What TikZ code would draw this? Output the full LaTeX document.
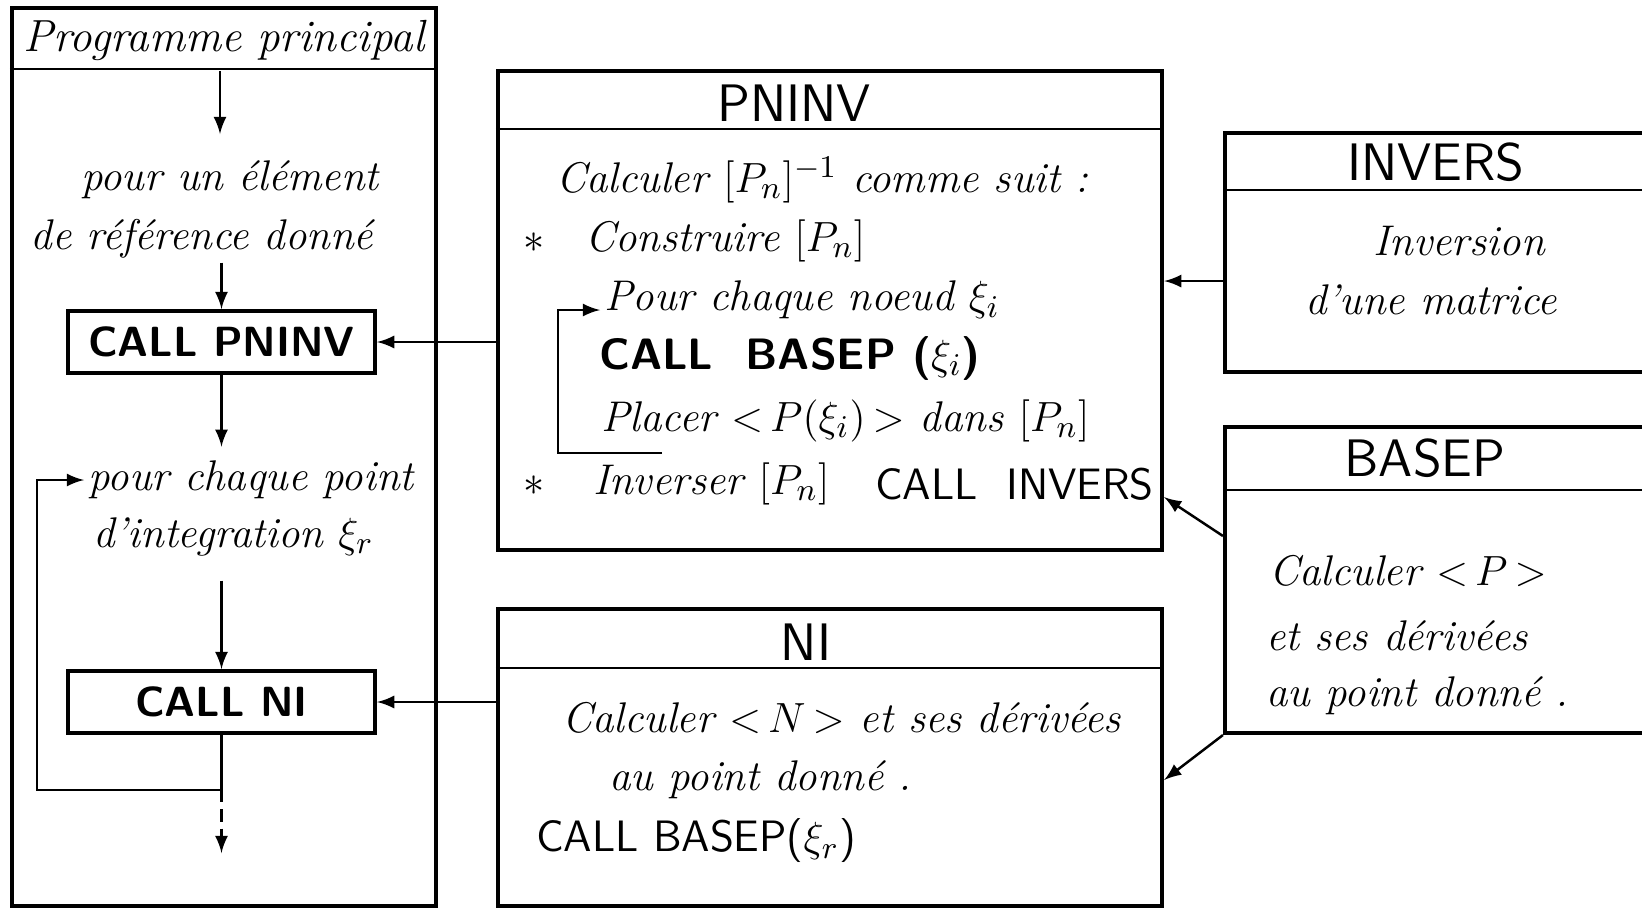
\documentclass[tikz,border=0pt]{standalone}
\usetikzlibrary{arrows}
\usetikzlibrary{math}

\tikzset{
  frame/.style={draw, line width=1.1pt, inner sep=0pt},
  callbox/.style={draw, line width=1.1pt, minimum width=3.07cm, minimum height=0.62cm,
    font=\sffamily\bfseries\fontsize{12}{14}\selectfont},
  hand/.style={font=\itshape\fontsize{12.2}{15}\selectfont, inner sep=1pt},
  caps/.style={font=\sffamily\fontsize{12.5}{15}\selectfont, inner sep=1pt},
  title/.style={font=\sffamily\fontsize{15}{17}\selectfont, inner sep=1pt},
  link/.style={line width=0.7pt},
}

\begin{document}
\begin{tikzpicture}[x=0.01cm, y=-0.01cm]

\useasboundingbox (0,0) rectangle (1642,908);
\clip (0,0) rectangle (1642,908);

% programme principal
\node[frame, minimum width=4.24cm, minimum height=8.98cm] (main) at (224,457) {};
\draw[link] ([yshift=-0.63cm]main.north west) -- ([yshift=-0.63cm]main.north east);
\node[hand, font=\itshape\fontsize{12.8}{15}\selectfont] (mainT) at (224,40) {Programme principal};

\coordinate (hdr) at (220,71);
\coordinate (hdrend) at (220,134);
\node[hand] (elem1) at (230,180) {pour un élément};
\node[hand] (elem2) at (202,239) {de référence donné};
\node[callbox] (callpninv) at (221.5,342) {CALL PNINV};
\node[hand, anchor=west] (pour) at (84,480) {pour chaque point};
\node[hand, anchor=west] (integ) at (89,537) {d'integration $\xi_r$};
\node[callbox] (callni) at (221.5,702) {CALL NI};
\coordinate (loopc) at (221.5,790);
\coordinate (loopl) at (37,790);
\coordinate (exit) at (221.5,853);

\draw[link,-latex] (hdr) -- (hdrend);
\draw[link,-latex] (elem2.south -| callpninv.north) -- (callpninv.north);
\draw[link,-latex] (callpninv.south) -- ([yshift=0.1cm]callpninv.south |- pour.north);
\draw[link,-latex] ([yshift=-0.2cm]callni.north |- integ.south) -- (callni.north);
\draw[link,-latex] (callni.south) -- (loopc) -- (loopl) |- (pour.west);
\draw[link,dashed,dash pattern=on 3.5pt off 2pt,-latex] (loopc) -- (exit);

% PNINV
\node[frame, minimum width=6.64cm, minimum height=4.79cm] (pninv) at (830,310.5) {};
\draw[link] ([yshift=-0.60cm]pninv.north west) -- ([yshift=-0.60cm]pninv.north east);
\node[title] (pninvT) at (794,103) {PNINV};
\node[hand, anchor=west] (calc) at (552,180) {Calculer $[P_n]^{-1}$ comme suit :};
\node[hand] (s1) at (534,243) {$\ast$};
\node[hand, anchor=west] (constr) at (581,241) {Construire $[P_n]$};
\node[hand, anchor=west] (pourn) at (600,300) {Pour chaque noeud $\xi_i$};
\node[caps, anchor=west, font=\sffamily\bfseries\fontsize{12.5}{15}\selectfont] (callb) at (595,358) {CALL\ \ BASEP ($\xi_i$)};
\node[hand, anchor=west] (placer) at (597,421) {Placer ${<}\,P(\xi_i)\,{>}$ dans $[P_n]$};
\node[hand] (s2) at (534,486) {$\ast$};
\node[hand, anchor=west] (invp) at (589,484) {Inverser $[P_n]$};
\node[caps, anchor=west] (callinv) at (871,484) {CALL\ \ INVERS};
\coordinate (iloop) at (662,453);
\coordinate (iloopl) at (558,453);
\draw[link,-latex] (iloop) -- (iloopl) |- ([yshift=-0.1cm]pourn.west);

% NI
\node[frame, minimum width=6.64cm, minimum height=2.97cm] (ni) at (830,757.5) {};
\draw[link] ([yshift=-0.61cm]ni.north west) -- ([yshift=-0.61cm]ni.north east);
\node[title] (niT) at (806,642) {NI};
\node[hand, anchor=west] (calcn) at (558,718) {Calculer ${<}\,N\,{>}$ et ses dérivées};
\node[hand, anchor=west] (aupt) at (605,780) {au point donné .};
\node[caps, anchor=west] (callbr) at (532,841) {CALL BASEP($\xi_r$)};

% INVERS
\node[frame, minimum width=4.35cm, minimum height=2.39cm] (invers) at (1442.5,252.5) {};
\draw[link] ([yshift=-0.59cm]invers.north west) -- ([yshift=-0.59cm]invers.north east);
\node[title] (inversT) at (1436,162) {INVERS};
\node[hand] (inv1) at (1459,241) {Inversion};
\node[hand] (inv2) at (1431,300) {d'une matrice};

% BASEP
\node[frame, minimum width=4.35cm, minimum height=3.06cm] (basep) at (1442.5,580) {};
\draw[link] ([yshift=-0.65cm]basep.north west) -- ([yshift=-0.65cm]basep.north east);
\node[title] (basepT) at (1425,458) {BASEP};
\node[hand, anchor=west] (bas1) at (1265,571) {Calculer ${<}\,P\,{>}$};
\node[hand, anchor=west] (bas2) at (1262,636) {et ses dérivées};
\node[hand, anchor=west] (bas3) at (1262,696) {au point donné .};

% liaisons
\draw[link,-latex] (pninv.west |- callpninv) -- (callpninv.east);
\draw[link,-latex] (ni.west |- callni) -- (callni.east);
\draw[link,-latex] ([yshift=-0.285cm]invers.west) -- ([yshift=-0.285cm]invers.west -| pninv.east);
\draw[link,-latex] ([yshift=0.44cm]basep.west) -- ([yshift=-1.865cm]pninv.east);
\draw[link,-latex] (basep.south west) -- ([yshift=-0.225cm]ni.east);

\end{tikzpicture}
\end{document}
